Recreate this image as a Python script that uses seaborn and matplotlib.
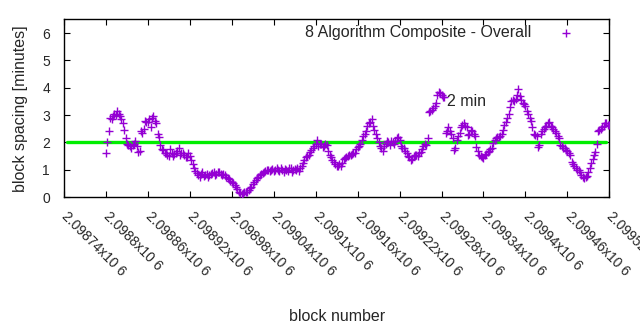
import matplotlib
matplotlib.use("Agg")
import matplotlib.pyplot as plt
import seaborn as sns
import pandas as pd

# Composite block spacing in minutes, sampled every 2 blocks from block 2098800.
# spacing_a holds blocks 2098800, 2098804, ...; spacing_b holds 2098802, 2098806, ...
first_block = 2098800
spacing_a = [
    1.62, 2.40, 2.85, 3.05, 3.15, 2.95, 2.70, 2.15, 1.90, 1.80,
    1.95, 1.85, 1.70, 2.35, 2.80, 2.75, 2.55, 2.95, 2.70, 2.20,
    1.75, 1.60, 1.55, 1.75, 1.50, 1.62, 1.80, 1.60, 1.55, 1.48,
    1.50, 1.20, 0.95, 0.80, 0.85, 0.78, 0.85, 0.80, 0.88, 0.80,
    0.90, 0.85, 0.86, 0.75, 0.65, 0.56, 0.45, 0.28, 0.15, 0.14,
    0.18, 0.25, 0.38, 0.55, 0.70, 0.80, 0.88, 0.95, 0.98, 1.00,
    0.97, 1.05, 0.95, 1.00, 1.02, 0.95, 1.05, 0.98, 1.00, 0.96,
    1.15, 1.35, 1.50, 1.65, 1.80, 1.95, 1.88, 1.95, 1.85, 1.90,
    1.55, 1.35, 1.20, 1.12, 1.15, 1.38, 1.45, 1.52, 1.58, 1.62,
    1.82, 1.95, 2.25, 2.40, 2.70, 2.84, 2.45, 2.15, 1.85, 1.70,
    1.95, 2.00, 2.05, 1.95, 2.15, 2.10, 1.80, 1.70, 1.50, 1.35,
    1.50, 1.52, 1.60, 1.75, 1.95, 2.15, 3.15, 3.25, 3.45, 3.85,
    3.72, 3.65, 2.40, 2.40, 2.15, 1.80, 2.25, 2.55, 2.70, 2.55,
    2.30, 2.40, 2.25, 1.70, 1.50, 1.42, 1.58, 1.68, 1.80, 2.10,
    2.18, 2.22, 2.45, 2.75, 3.05, 3.50, 3.50, 3.75, 3.70, 3.45,
    3.35, 3.05, 2.80, 2.30, 2.25, 1.90, 2.40, 2.55, 2.70, 2.60,
    2.50, 2.35, 2.15, 1.85, 1.78, 1.70, 1.55, 1.22, 1.08, 0.98,
    0.82, 0.70, 0.78, 1.05, 1.38, 1.65, 2.40, 2.50, 2.60, 2.72,
    2.65,
]
spacing_b = [
    2.00, 2.90, 2.95, 3.00, 3.05, 2.85, 2.45, 1.95, 1.85, 1.90,
    2.05, 1.65, 2.40, 2.50, 2.75, 2.85, 2.90, 2.80, 2.30, 1.90,
    1.72, 1.60, 1.50, 1.62, 1.58, 1.70, 1.55, 1.62, 1.45, 1.60,
    1.35, 1.05, 0.88, 0.75, 0.90, 0.82, 0.75, 0.85, 0.90, 0.84,
    0.93, 0.80, 0.80, 0.70, 0.60, 0.50, 0.36, 0.20, 0.12, 0.18,
    0.20, 0.32, 0.47, 0.62, 0.75, 0.84, 0.92, 1.00, 0.95, 1.02,
    1.00, 0.98, 1.05, 0.92, 1.00, 1.05, 0.92, 1.02, 1.05, 1.05,
    1.25, 1.45, 1.55, 1.72, 1.85, 2.08, 1.95, 1.82, 1.95, 1.70,
    1.45, 1.28, 1.15, 1.20, 1.25, 1.42, 1.50, 1.55, 1.60, 1.75,
    1.88, 2.10, 2.30, 2.60, 2.75, 2.60, 2.30, 2.00, 1.80, 1.88,
    2.05, 1.90, 2.00, 2.05, 2.20, 1.85, 1.78, 1.60, 1.45, 1.38,
    1.55, 1.50, 1.65, 1.85, 1.90, 3.10, 3.20, 3.35, 3.75, 3.80,
    3.67, 2.35, 2.55, 2.30, 1.72, 2.10, 2.35, 2.65, 2.60, 2.27,
    2.45, 2.30, 1.84, 1.55, 1.45, 1.54, 1.65, 1.75, 1.97, 2.15,
    2.20, 2.30, 2.65, 2.90, 3.30, 3.55, 3.60, 3.95, 3.55, 3.40,
    3.15, 2.90, 2.55, 2.27, 1.84, 2.30, 2.50, 2.60, 2.75, 2.55,
    2.40, 2.25, 1.90, 1.78, 1.72, 1.62, 1.30, 1.12, 1.00, 0.90,
    0.72, 0.75, 0.90, 1.25, 1.55, 1.95, 2.45, 2.55, 2.70, 2.63,
]
blocks_a = [first_block + 4 * i for i in range(len(spacing_a))]
blocks_b = [first_block + 2 + 4 * i for i in range(len(spacing_b))]

# Two-minute target line
target_blocks = [2098745, 2099515]
target_minutes = [2, 2]

x_ticks = [2098740, 2098800, 2098860, 2098920, 2098980, 2099040, 2099100,
           2099160, 2099220, 2099280, 2099340, 2099400, 2099460, 2099520]
x_tick_labels = ["2.09874x10 6", "2.0988x10 6", "2.09886x10 6",
                 "2.09892x10 6", "2.09898x10 6", "2.09904x10 6",
                 "2.0991x10 6", "2.09916x10 6", "2.09922x10 6",
                 "2.09928x10 6", "2.09934x10 6", "2.0994x10 6",
                 "2.09946x10 6", "2.09952x10 6"]
y_ticks = [0, 1, 2, 3, 4, 5, 6]

sns.set_style("ticks")
plt.rcParams["font.family"] = ["Liberation Sans", "DejaVu Sans"]

fs = 11.5
tfs = 10
fig = plt.figure(figsize=(6.4, 3.3), dpi=100)
ax = fig.add_axes([0.1, 0.403, 0.852, 0.538])

df = pd.DataFrame({"block": blocks_a + blocks_b,
                   "minutes": spacing_a + spacing_b}).sort_values("block")
sns.scatterplot(data=df, x="block", y="minutes", ax=ax, marker="+",
                color="#9400d3", s=32, linewidth=1.0,
                label="8 Algorithm Composite - Overall", zorder=3)
sns.lineplot(x=target_blocks, y=target_minutes, ax=ax, color="#00ee00",
             linewidth=2.4, zorder=2)

ax.text(2099288, 3.5, "2 min", fontsize=fs, va="center", ha="left")

ax.set_xlim(2098740, 2099520)
ax.set_ylim(0, 6.5)
ax.set_xticks(x_ticks)
ax.set_xticklabels(x_tick_labels, rotation=-45, ha="left", va="center",
                   rotation_mode="anchor", fontsize=tfs)
ax.set_yticks(y_ticks)
ax.set_yticklabels([str(v) for v in y_ticks], fontsize=tfs)
ax.tick_params(direction="in", length=4, width=0.8, top=True, right=True,
               color="black")
ax.tick_params(axis="x", pad=12)
ax.tick_params(axis="y", pad=10)
for s in ax.spines.values():
    s.set_visible(True)
    s.set_linewidth(1.0)
    s.set_color("black")

ax.set_xlabel("block number", fontsize=fs, labelpad=22)
ax.set_ylabel("block spacing [minutes]", fontsize=fs, labelpad=10)

leg = ax.legend(loc="upper right", bbox_to_anchor=(0.95, 0.968),
                frameon=False, markerfirst=False, fontsize=fs,
                borderpad=0, borderaxespad=0, handlelength=2.0,
                handletextpad=1.2, markerscale=1.0)

fig.savefig("out.png", dpi=100)
